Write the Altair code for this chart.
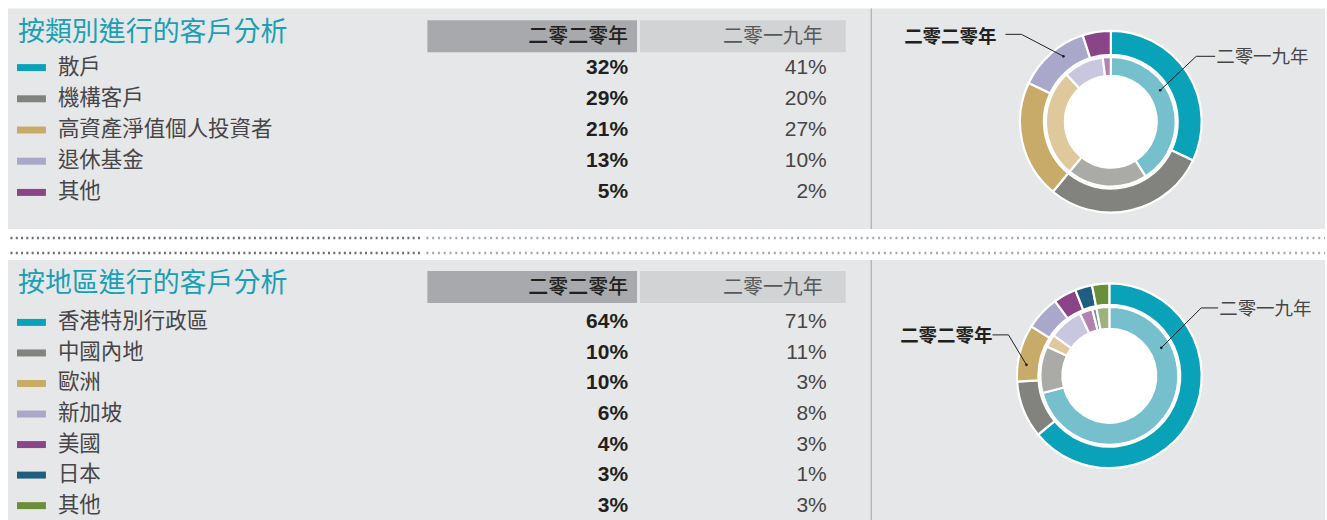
import math
import altair as alt
import pandas as pd

# ---------------- data ----------------
TITLE_TYPE = "按類別進行的客戶分析"
TITLE_REGION = "按地區進行的客戶分析"
YEAR_2020 = "二零二零年"
YEAR_2019 = "二零一九年"

type_categories = ["散戶", "機構客戶", "高資產淨值個人投資者", "退休基金", "其他"]
type_2020 = [32, 29, 21, 13, 5]
type_2019 = [41, 20, 27, 10, 2]

region_categories = ["香港特別行政區", "中國內地", "歐洲", "新加坡", "美國", "日本", "其他"]
region_2020 = [64, 10, 10, 6, 4, 3, 3]
region_2019 = [71, 11, 3, 8, 3, 1, 3]

# ---------------- styles ----------------
OUTER = ["#0aa2b8", "#82837e", "#c9ab69", "#a9a8cb", "#8a4488", "#215c81", "#6a8f3b"]
INNER = ["#76c0ce", "#aaaba6", "#dfc89b", "#c8c7df", "#b282b0", "#6e90ab", "#a0b27c"]
PANEL = "#e6e7e8"
TITLE_COLOR = "#1a9fb4"
DARK = "#231f20"
MID = "#464547"
CJK = "Noto Sans CJK TC"
NUM = "Liberation Sans"

TABLE_W = 864
DONUT_W = 455


def one(text=""):
    return pd.DataFrame({"t": [text]})


def table_view(title, cats, v20, v19, height, title_y, head, row_range):
    n = len(cats)
    df = pd.DataFrame({
        "cat": cats,
        "v20": [f"{v}%" for v in v20],
        "v19": [f"{v}%" for v in v19],
        "swatch": OUTER[:n],
    })
    y = alt.Y("cat:N", scale=alt.Scale(type="point", domain=cats, range=row_range, padding=0), axis=None)
    base = alt.Chart(df)
    swatch = base.mark_tick(orient="horizontal", size=29, thickness=7, opacity=1).encode(
        x=alt.value(23.5), y=y, color=alt.Color("swatch:N", scale=None))
    label = base.mark_text(align="left", baseline="middle", font=CJK, fontSize=21.5, color=MID).encode(
        x=alt.value(50), y=y, text="cat:N")
    col20 = base.mark_text(align="right", baseline="middle", font=NUM, fontSize=21,
                           fontWeight="bold", color=DARK).encode(x=alt.value(621), y=y, text="v20:N")
    col19 = base.mark_text(align="right", baseline="middle", font=NUM, fontSize=21,
                           color=MID).encode(x=alt.value(820), y=y, text="v19:N")

    h0, h1 = head
    hc = (h0 + h1) / 2 + 1
    title_mark = alt.Chart(one(title)).mark_text(
        align="left", baseline="middle", font=CJK, fontSize=27, color=TITLE_COLOR).encode(
        x=alt.value(10), y=alt.value(title_y), text="t:N")
    box20 = alt.Chart(one()).mark_rect(color="#a7a9ac").encode(
        x=alt.value(420), x2=alt.value(630), y=alt.value(h0), y2=alt.value(h1))
    box19 = alt.Chart(one()).mark_rect(color="#d1d3d4").encode(
        x=alt.value(633), x2=alt.value(839), y=alt.value(h0), y2=alt.value(h1))
    txt20 = alt.Chart(one(YEAR_2020)).mark_text(
        align="right", baseline="middle", font=CJK, fontSize=20, fontWeight=500, color=DARK).encode(
        x=alt.value(621), y=alt.value(hc), text="t:N")
    txt19 = alt.Chart(one(YEAR_2019)).mark_text(
        align="right", baseline="middle", font=CJK, fontSize=20, color="#58595b").encode(
        x=alt.value(816), y=alt.value(hc), text="t:N")

    return alt.layer(box20, box19, txt20, txt19, title_mark, swatch, label, col20, col19).properties(
        width=TABLE_W, height=height, view=alt.ViewBackground(fill=PANEL, strokeWidth=0))


def donut_view(cats, v20, v19, height, cx, cy, radii, notes):
    n = len(cats)
    hole, in_out, out_in, out_out = radii

    def ring(values, colors, r_in, r_out):
        df = pd.DataFrame({"cat": cats, "idx": list(range(n)), "value": values, "c": colors[:n]})
        return alt.Chart(df).mark_arc(radius=r_out, radius2=r_in, stroke="white", strokeWidth=2.2).encode(
            theta=alt.Theta("value:Q", stack=True),
            order=alt.Order("idx:Q"),
            color=alt.Color("c:N", scale=None),
            x=alt.value(cx), y=alt.value(cy))

    disc = alt.Chart(one()).mark_circle(color="white", opacity=1, size=math.pi * (out_in + 1) ** 2).encode(
        x=alt.value(cx), y=alt.value(cy))
    inner = ring(v19, INNER, hole, in_out)
    outer = ring(v20, OUTER, out_in, out_out)
    divider = alt.Chart(one()).mark_rule(color="#9d9fa2", strokeWidth=1).encode(
        x=alt.value(0.5), y=alt.value(0), y2=alt.value(height))

    layers = [divider, disc, inner, outer]
    for text, bold, align, tx, ty, pts in notes:
        segs = pd.DataFrame({
            "x": [p[0] for p in pts[:-1]], "y": [p[1] for p in pts[:-1]],
            "x2": [p[0] for p in pts[1:]], "y2": [p[1] for p in pts[1:]],
        })
        layers.append(alt.Chart(segs).mark_rule(color=DARK, strokeWidth=1).encode(
            x=alt.X("x:Q", scale=None), y=alt.Y("y:Q", scale=None),
            x2="x2:Q", y2="y2:Q"))
        layers.append(alt.Chart(one()).mark_circle(color=DARK, opacity=1, size=7).encode(
            x=alt.value(pts[-1][0]), y=alt.value(pts[-1][1])))
        layers.append(alt.Chart(one(text)).mark_text(
            align=align, baseline="middle", font=CJK, fontSize=18.5,
            fontWeight="bold" if bold else "normal", color=DARK if bold else MID).encode(
            x=alt.value(tx), y=alt.value(ty), text="t:N"))

    return alt.layer(*layers).properties(
        width=DONUT_W, height=height, view=alt.ViewBackground(fill=PANEL, strokeWidth=0))


# ---------------- sections ----------------
TOP_H = 221
SEP_H = 29
BOT_H = 263

top = alt.hconcat(
    table_view(TITLE_TYPE, type_categories, type_2020, type_2019, TOP_H, 25, (12, 44), [59.3, 184.3]),
    donut_view(type_categories, type_2020, type_2019, TOP_H, 240.5, 113.5, (46, 65, 67, 91), [
        (YEAR_2020, True, "right", 126, 29, [(135, 26), (151, 26), (193, 48)]),
        (YEAR_2019, False, "left", 346, 48.5, [(345, 48), (326, 48), (290, 82)]),
    ]),
    spacing=0,
)

bottom = alt.hconcat(
    table_view(TITLE_REGION, region_categories, region_2020, region_2019, BOT_H, 24, (11, 43), [62.5, 246]),
    donut_view(region_categories, region_2020, region_2019, BOT_H, 239, 116, (47, 69, 71, 92.5), [
        (YEAR_2020, True, "right", 122, 76.5, [(122, 75), (138, 75), (156, 105)]),
        (YEAR_2019, False, "left", 349, 49, [(348, 48), (331, 48), (291, 88)]),
    ]),
    spacing=0,
)

sep_layers = []
for yy in (8, 23):
    sep_layers.append(alt.Chart(one()).mark_rule(color="#6d6e71", strokeWidth=2.5, strokeDash=[2, 3.3]).encode(
        x=alt.value(2.5), x2=alt.value(413), y=alt.value(yy)))
    sep_layers.append(alt.Chart(one()).mark_rule(color="#a7a9ac", strokeWidth=2.5, strokeDash=[2, 3.8]).encode(
        x=alt.value(419), x2=alt.value(TABLE_W + DONUT_W), y=alt.value(yy)))
separator = alt.layer(*sep_layers).properties(width=TABLE_W + DONUT_W, height=SEP_H)

chart = alt.vconcat(top, separator, bottom, spacing=0).properties(
    padding={"left": 8, "top": 7, "right": 0, "bottom": 0},
    background="white",
).configure_view(strokeWidth=0)

chart.save("out.html", embed_options={"renderer": "svg", "actions": False})
